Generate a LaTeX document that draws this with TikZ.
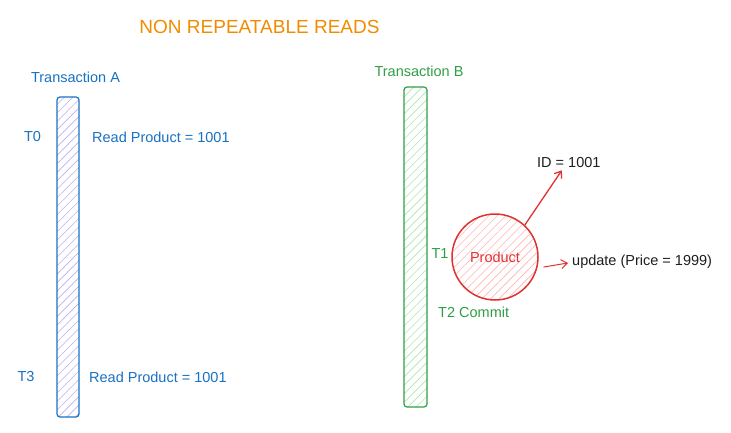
\documentclass[tikz,border=0pt]{standalone}
\usepackage{fontspec}
\setmainfont{Liberation Sans}
\usetikzlibrary{arrows.meta,patterns.meta}

\definecolor{txblue}{HTML}{1971C2}
\definecolor{txgreen}{HTML}{2F9E44}
\definecolor{txred}{HTML}{E03131}
\definecolor{txorange}{HTML}{F08C00}
\definecolor{txink}{HTML}{1E1E1E}
\definecolor{hatchA}{HTML}{B9AEF2}
\definecolor{hatchB}{HTML}{A9E6B0}
\definecolor{hatchP}{HTML}{FFB3B3}

\tikzset{
  lbl/.style={font=\fontsize{14.5}{17}\selectfont, inner sep=0pt},
  lane/.style={draw=#1, line width=1.2pt, rounded corners=3pt, minimum width=22pt,
    minimum height=320pt, inner sep=0pt,
    pattern={Lines[angle=45,distance=6pt,line width=0.6pt]}},
  redarrow/.style={txred, line width=1.3pt, -{Straight Barb[length=6pt,width=9pt]}},
}

\begin{document}
\begin{tikzpicture}[line cap=round, line join=round, x=1pt, y=-1pt]
    \useasboundingbox (0,0) rectangle (731,433);

    \node[lbl, txorange, font=\fontsize{19}{22}\selectfont] (title) at (259.5,27) {NON REPEATABLE READS};

    % transaction A
    \node[lbl, txblue] (tA) at (75.5,77) {Transaction A};
    \node[lane=txblue, pattern color=hatchA] (laneA) at (68,257) {};
    \node[lbl, txblue] (t0) at (32.5,137) {T0};
    \node[lbl, txblue, anchor=west] (readA) at (92,137) {Read Product = 1001};
    \node[lbl, txblue] (t3) at (26,377) {T3};
    \node[lbl, txblue, anchor=west] (readB) at (89,377) {Read Product = 1001};

    % transaction B
    \node[lbl, txgreen] (tB) at (419,71) {Transaction B};
    \node[lane=txgreen, minimum width=23pt, pattern color=hatchB] (laneB) at (415.5,247) {};
    \node[lbl, txgreen] (t1) at (440,254) {T1};
    \node[lbl, txgreen, anchor=west] (t2) at (438,312) {T2 Commit};

    \node[draw=txred, circle, line width=1.5pt, minimum size=86pt, inner sep=0pt,
      pattern={Lines[angle=45,distance=6pt,line width=0.6pt]}, pattern color=hatchP] (product) at (495,257) {};
    \node[lbl, txred] (plbl) at (product.center) {Product};

    \node[lbl, txink, anchor=west] (id) at (537,163) {ID = 1001};
    \node[lbl, txink, anchor=west] (upd) at (572,262) {update (Price = 1999)};

    \draw[redarrow] (product.47) -- ([xshift=-7pt,yshift=-2pt]id.south);
    \draw[redarrow, line width=1pt] ([xshift=5pt,yshift=-10pt]product.east) -- ([xshift=-4pt,yshift=-1pt]upd.west);

\end{tikzpicture}
\end{document}
